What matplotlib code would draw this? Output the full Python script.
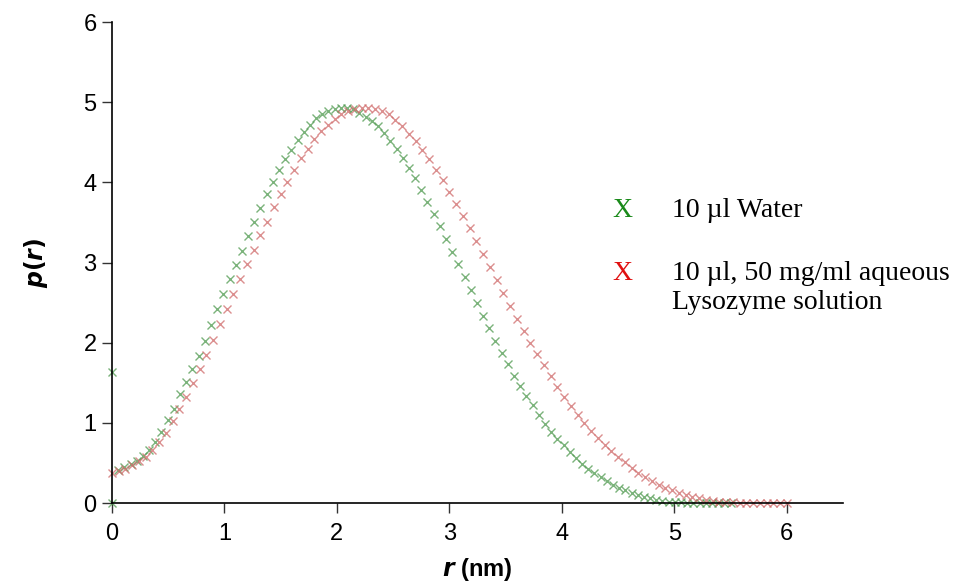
import matplotlib.pyplot as plt

# water sample, p(r) (step ~0.055 nm)
r_water = [0.0, 0.0, 0.055, 0.11, 0.165, 0.22, 0.275, 0.33, 0.385, 0.44, 0.495,
           0.55, 0.605, 0.66, 0.715, 0.77, 0.825, 0.88, 0.935, 0.99, 1.045,
           1.10, 1.155, 1.21, 1.265, 1.32, 1.375, 1.43, 1.485, 1.54, 1.595,
           1.65, 1.705, 1.76, 1.815, 1.87, 1.925, 1.98, 2.035, 2.09, 2.145,
           2.20, 2.255, 2.31, 2.365, 2.42, 2.475, 2.53, 2.585, 2.64, 2.695,
           2.75, 2.805, 2.86, 2.915, 2.97, 3.025, 3.08, 3.135, 3.19, 3.245,
           3.30, 3.355, 3.41, 3.465, 3.52, 3.575, 3.63, 3.685, 3.74, 3.795,
           3.85, 3.905, 3.96, 4.015, 4.07, 4.125, 4.18, 4.235, 4.29, 4.345,
           4.40, 4.455, 4.51, 4.565, 4.62, 4.675, 4.73, 4.785, 4.84, 4.895,
           4.95, 5.005, 5.06, 5.115, 5.17, 5.225, 5.28, 5.335, 5.39, 5.445, 5.50]
p_water = [1.63, 0.0, 0.41, 0.45, 0.49, 0.53, 0.59, 0.66, 0.76, 0.89, 1.04,
           1.18, 1.36, 1.51, 1.67, 1.84, 2.02, 2.22, 2.42, 2.61, 2.80,
           2.97, 3.15, 3.33, 3.51, 3.68, 3.85, 4.01, 4.15, 4.29, 4.41,
           4.53, 4.63, 4.72, 4.80, 4.85, 4.89, 4.92, 4.93, 4.93, 4.91,
           4.87, 4.82, 4.77, 4.71, 4.62, 4.52, 4.42, 4.31, 4.18, 4.05,
           3.91, 3.76, 3.61, 3.46, 3.30, 3.13, 2.98, 2.82, 2.66, 2.50,
           2.34, 2.18, 2.02, 1.87, 1.73, 1.59, 1.46, 1.34, 1.22, 1.10,
           0.99, 0.89, 0.80, 0.72, 0.64, 0.56, 0.49, 0.43, 0.37, 0.32,
           0.27, 0.23, 0.19, 0.16, 0.13, 0.10, 0.08, 0.06, 0.04, 0.03,
           0.02, 0.01, 0.01, 0.0, 0.0, 0.0, 0.0, 0.0, 0.0, 0.0, 0.0]

# lysozyme sample (step 0.06 nm)
r_lyso = [0.0, 0.06, 0.12, 0.18, 0.24, 0.30, 0.36, 0.42, 0.48, 0.54,
          0.60, 0.66, 0.72, 0.78, 0.84, 0.90, 0.96, 1.02, 1.08, 1.14,
          1.20, 1.26, 1.32, 1.38, 1.44, 1.50, 1.56, 1.62, 1.68, 1.74,
          1.80, 1.86, 1.92, 1.98, 2.04, 2.10, 2.16, 2.22, 2.28, 2.34,
          2.40, 2.46, 2.52, 2.58, 2.64, 2.70, 2.76, 2.82, 2.88, 2.94,
          3.00, 3.06, 3.12, 3.18, 3.24, 3.30, 3.36, 3.42, 3.48, 3.54,
          3.60, 3.66, 3.72, 3.78, 3.84, 3.90, 3.96, 4.02, 4.08, 4.14,
          4.20, 4.26, 4.32, 4.38, 4.44, 4.50, 4.56, 4.62, 4.68, 4.74,
          4.80, 4.86, 4.92, 4.98, 5.04, 5.10, 5.16, 5.22, 5.28, 5.34,
          5.40, 5.46, 5.52, 5.58, 5.64, 5.70, 5.76, 5.82, 5.88, 5.94, 6.00]
p_lyso = [0.37, 0.40, 0.43, 0.47, 0.52, 0.58, 0.66, 0.76, 0.88, 1.02,
          1.17, 1.33, 1.50, 1.67, 1.85, 2.04, 2.23, 2.42, 2.61, 2.80,
          2.98, 3.16, 3.34, 3.51, 3.69, 3.86, 4.01, 4.15, 4.30, 4.42,
          4.54, 4.64, 4.72, 4.79, 4.85, 4.89, 4.92, 4.93, 4.93, 4.92,
          4.89, 4.85, 4.78, 4.70, 4.61, 4.52, 4.41, 4.29, 4.16, 4.03,
          3.88, 3.73, 3.58, 3.43, 3.27, 3.11, 2.95, 2.78, 2.62, 2.46,
          2.30, 2.15, 2.00, 1.86, 1.72, 1.58, 1.45, 1.33, 1.21, 1.10,
          1.00, 0.90, 0.81, 0.72, 0.65, 0.58, 0.51, 0.44, 0.38, 0.32,
          0.27, 0.23, 0.19, 0.16, 0.13, 0.10, 0.08, 0.06, 0.045, 0.03,
          0.02, 0.015, 0.01, 0.005, 0.0, 0.0, 0.0, 0.0, 0.0, 0.0, 0.0]

x_ticks = [0, 1, 2, 3, 4, 5, 6]
y_ticks = [0, 1, 2, 3, 4, 5, 6]

plt.rcParams["font.family"] = "Liberation Sans"

fig = plt.figure(figsize=(9.62, 5.81), dpi=100)
ax = fig.add_axes([0.1164, 0.134, 0.7599, 0.828])

ax.plot(r_water, p_water, "x", color="#4f9a4f", alpha=0.75, ms=6, mew=1.0, clip_on=False)
ax.plot(r_lyso, p_lyso, "x", color="#d06a6a", alpha=0.75, ms=6, mew=1.0, clip_on=False)

ax.set_xlim(0, 6.5)
ax.set_ylim(0, 6)
ax.set_xticks(x_ticks)
ax.set_yticks(y_ticks)
ax.tick_params(labelsize=17, length=7, width=1, color="#333333")
ax.tick_params(axis="x", pad=7)
ax.tick_params(axis="y", pad=4)
for s in ["top", "right"]:
    ax.spines[s].set_visible(False)
for s in ["left", "bottom"]:
    ax.spines[s].set_linewidth(1.2)

ax.set_xlabel(r"$\boldsymbol{r}$ (nm)", fontsize=17, fontweight="bold", labelpad=8)
ax.set_ylabel(r"$\boldsymbol{p(r)}$", fontsize=17, fontweight="bold", labelpad=24)

# legend drawn as text, like the original
serif = "Liberation Serif"
fs = 20
fig.text(622 / 962, 1 - 210 / 581, "X", color="#1a8a1a", family=serif, fontsize=fs, ha="center", va="center")
fig.text(672 / 962, 1 - 210 / 581, "10 \u00b5l Water", family=serif, fontsize=fs, va="center")
fig.text(622 / 962, 1 - 274 / 581, "X", color="#e01010", family=serif, fontsize=fs, ha="center", va="center")
fig.text(672 / 962, 1 - 274 / 581, "10 \u00b5l, 50 mg/ml aqueous", family=serif, fontsize=fs, va="center")
fig.text(672 / 962, 1 - 303 / 581, "Lysozyme solution", family=serif, fontsize=fs, va="center")

plt.savefig("out.png", dpi=100)
